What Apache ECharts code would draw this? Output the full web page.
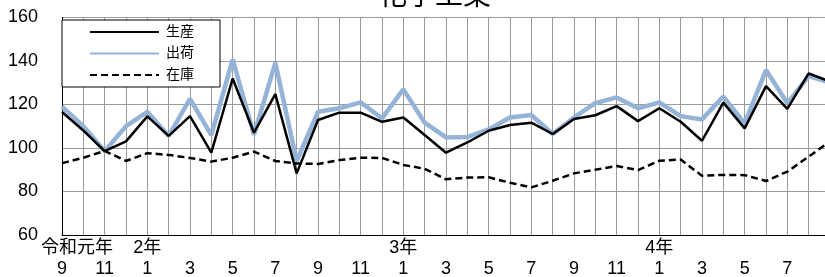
<!DOCTYPE html>
<html>
<head>
<meta charset="utf-8">
<script src="https://cdn.jsdelivr.net/npm/echarts@6/dist/echarts.min.js"></script>
<style>
html,body{margin:0;padding:0;background:#fff;}
#chart{width:825px;height:277px;}
</style>
</head>
<body>
<div id="chart"></div>
<script>
// Months Sep 2019 (令和元年9月) .. Sep 2022 (令和4年9月)
const monthLabels = ['9','10','11','12','1','2','3','4','5','6','7','8','9','10','11','12','1','2','3','4','5','6','7','8','9','10','11','12','1','2','3','4','5','6','7','8','9'];
const yearLabels = ['令和元年','','','','2年','','','','','','','','','','','','3年','','','','','','','','','','','','4年','','','','','','','',''];
const seriesNames = ['生産','出荷','在庫'];
const production = [116.5,108,98.5,103,114.5,105.5,114.6,97.8,131.9,107,124.7,88.3,112.8,116.2,116.2,112,114,105.9,97.8,102.5,107.9,110.5,111.6,106.4,113.3,115,119.2,112.3,118.2,112,103.3,120.8,109,128.4,117.9,134.2,130.5];
const shipments = [119,110,98.5,110,116.6,105.5,122.5,105.9,140.7,106,139.1,94,116.6,118.2,120.9,113.6,126.9,111.6,104.8,105,108.5,114,115.1,106.4,114,120.6,123.2,118.2,120.9,114.6,113.1,123.6,111.3,135.8,120.5,133,130];
const inventory = [93,95.5,98.6,94,97.6,96.8,95.4,93.7,95.5,98.3,94,92.9,92.6,94.4,95.5,95.4,92.2,90.4,85.6,86.4,86.5,84,81.9,84.9,88.3,90,91.7,89.8,94.1,94.7,87.2,87.6,87.5,84.8,89.1,96,103];
const yTicks = {min: 60, max: 160, interval: 20};

const FONT = "'Liberation Sans', Arial, 'Noto Sans CJK JP', sans-serif";
const chart = echarts.init(document.getElementById('chart'), null, {renderer: 'canvas'});
chart.setOption({
  backgroundColor: '#ffffff',
  animation: false,
  textStyle: {fontFamily: FONT, color: '#000'},
  title: {
    text: '化学工業',
    left: 379, top: -17, padding: 0,
    textStyle: {fontSize: 28, fontWeight: 'normal', color: '#000', fontFamily: FONT}
  },
  legend: {
    data: seriesNames,
    orient: 'vertical',
    left: 62, top: 20,
    padding: [5, 26, 5, 27],
    itemWidth: 69, itemHeight: 14, itemGap: 7.5,
    backgroundColor: '#fff',
    borderColor: '#000', borderWidth: 1, borderRadius: 0,
    itemStyle: {opacity: 0},
    textStyle: {fontSize: 14, color: '#000', fontFamily: FONT, padding: [0,0,0,2]},
    z: 10
  },
  grid: {left: 62, right: -5, top: 17.3, bottom: 42, outerBoundsMode: 'none', containLabel: false},
  xAxis: [{
    type: 'category', data: monthLabels, boundaryGap: false, position: 'bottom',
    axisLine: {show: true, lineStyle: {color: '#000', width: 1}},
    axisTick: {show: false},
    splitLine: {show: true, interval: 0, lineStyle: {color: '#9a9a9a', width: 1}},
    axisLabel: {
      interval: function (i) { return i % 2 === 0 && i < 36; },
      fontSize: 18, color: '#000', margin: 25, fontFamily: FONT
    }
  }, {
    type: 'category', data: yearLabels, boundaryGap: false, position: 'bottom',
    axisLine: {show: false}, axisTick: {show: false}, splitLine: {show: false},
    axisLabel: {
      interval: 0, fontSize: 18, color: '#000', margin: 4, fontFamily: FONT,
      formatter: function (v, i) { return i === 0 ? '{a|' + v + '}' : v; },
      rich: {a: {fontSize: 18, color: '#000', fontFamily: FONT, padding: [0, 0, 0, 30]}}
    }
  }],
  yAxis: {
    type: 'value', min: yTicks.min, max: yTicks.max, interval: yTicks.interval,
    axisLine: {show: true, lineStyle: {color: '#000', width: 1}},
    axisTick: {show: false},
    splitLine: {show: true, lineStyle: {color: '#9a9a9a', width: 1}},
    axisLabel: {fontSize: 18, color: '#000', margin: 24, fontFamily: FONT}
  },
  series: [
    {name: seriesNames[0], type: 'line', data: production, symbol: 'none', z: 4,
     lineStyle: {color: '#000', width: 2.5}, itemStyle: {color: '#000'}},
    {name: seriesNames[1], type: 'line', data: shipments, symbol: 'none', z: 3,
     lineStyle: {color: '#95B3D7', width: 4.5}, itemStyle: {color: '#95B3D7'}},
    {name: seriesNames[2], type: 'line', data: inventory, symbol: 'none', z: 3,
     lineStyle: {color: '#000', width: 2.5, type: [7, 4]}, itemStyle: {color: '#000'}}
  ]
});
</script>
</body>
</html>
